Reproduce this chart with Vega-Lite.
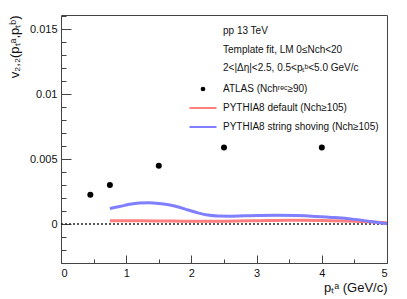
{
  "$schema": "https://vega.github.io/schema/vega-lite/v6.json",
  "width": 326,
  "height": 248,
  "autosize": {"type": "none"},
  "padding": {"left": 61, "top": 15, "right": 20, "bottom": 36},
  "config": {
    "font": "Liberation Sans",
    "view": {"stroke": "#444", "strokeWidth": 1},
    "axis": {"grid": false, "domain": false, "tickColor": "#444", "labelColor": "#111", "titleColor": "#111", "labelFont": "Liberation Sans", "titleFont": "Liberation Sans", "titleFontWeight": "normal"}
  },
  "datasets": {
    "atlas": [
      {"pt": 0.45, "v": 0.00225, "series": "ATLAS (Nchʳᵉᶜ≥90)"},
      {"pt": 0.75, "v": 0.0030, "series": "ATLAS (Nchʳᵉᶜ≥90)"},
      {"pt": 1.5, "v": 0.00449, "series": "ATLAS (Nchʳᵉᶜ≥90)"},
      {"pt": 2.5, "v": 0.0059, "series": "ATLAS (Nchʳᵉᶜ≥90)"},
      {"pt": 4.0, "v": 0.0059, "series": "ATLAS (Nchʳᵉᶜ≥90)"}
    ],
    "pythia": [
      {"pt": 0.75, "v": 0.00025, "series": "PYTHIA8 default (Nch≥105)"},
      {"pt": 1.0, "v": 0.00025, "series": "PYTHIA8 default (Nch≥105)"},
      {"pt": 1.5, "v": 0.00024, "series": "PYTHIA8 default (Nch≥105)"},
      {"pt": 2.0, "v": 0.00021, "series": "PYTHIA8 default (Nch≥105)"},
      {"pt": 2.5, "v": 0.00022, "series": "PYTHIA8 default (Nch≥105)"},
      {"pt": 3.0, "v": 0.00026, "series": "PYTHIA8 default (Nch≥105)"},
      {"pt": 3.5, "v": 0.0003, "series": "PYTHIA8 default (Nch≥105)"},
      {"pt": 4.0, "v": 0.00028, "series": "PYTHIA8 default (Nch≥105)"},
      {"pt": 4.5, "v": 0.00022, "series": "PYTHIA8 default (Nch≥105)"},
      {"pt": 5.0, "v": 0.0001, "series": "PYTHIA8 default (Nch≥105)"},
      {"pt": 0.75, "v": 0.0012, "series": "PYTHIA8 string shoving (Nch≥105)"},
      {"pt": 0.9, "v": 0.00135, "series": "PYTHIA8 string shoving (Nch≥105)"},
      {"pt": 1.05, "v": 0.00152, "series": "PYTHIA8 string shoving (Nch≥105)"},
      {"pt": 1.2, "v": 0.00162, "series": "PYTHIA8 string shoving (Nch≥105)"},
      {"pt": 1.35, "v": 0.00164, "series": "PYTHIA8 string shoving (Nch≥105)"},
      {"pt": 1.5, "v": 0.00159, "series": "PYTHIA8 string shoving (Nch≥105)"},
      {"pt": 1.65, "v": 0.00148, "series": "PYTHIA8 string shoving (Nch≥105)"},
      {"pt": 1.8, "v": 0.00131, "series": "PYTHIA8 string shoving (Nch≥105)"},
      {"pt": 1.95, "v": 0.00108, "series": "PYTHIA8 string shoving (Nch≥105)"},
      {"pt": 2.1, "v": 0.00086, "series": "PYTHIA8 string shoving (Nch≥105)"},
      {"pt": 2.25, "v": 0.00069, "series": "PYTHIA8 string shoving (Nch≥105)"},
      {"pt": 2.4, "v": 0.00062, "series": "PYTHIA8 string shoving (Nch≥105)"},
      {"pt": 2.6, "v": 0.00061, "series": "PYTHIA8 string shoving (Nch≥105)"},
      {"pt": 2.8, "v": 0.00063, "series": "PYTHIA8 string shoving (Nch≥105)"},
      {"pt": 3.0, "v": 0.00065, "series": "PYTHIA8 string shoving (Nch≥105)"},
      {"pt": 3.3, "v": 0.00067, "series": "PYTHIA8 string shoving (Nch≥105)"},
      {"pt": 3.6, "v": 0.00065, "series": "PYTHIA8 string shoving (Nch≥105)"},
      {"pt": 3.9, "v": 0.00059, "series": "PYTHIA8 string shoving (Nch≥105)"},
      {"pt": 4.2, "v": 0.0005, "series": "PYTHIA8 string shoving (Nch≥105)"},
      {"pt": 4.5, "v": 0.00036, "series": "PYTHIA8 string shoving (Nch≥105)"},
      {"pt": 4.75, "v": 0.0002, "series": "PYTHIA8 string shoving (Nch≥105)"},
      {"pt": 5.0, "v": 0.00002, "series": "PYTHIA8 string shoving (Nch≥105)"}
    ]
  },
  "layer": [
    {
      "data": {"values": [{"v": 0}]},
      "mark": {"type": "rule", "color": "#222", "strokeWidth": 1.5, "strokeDash": [2, 2]},
      "encoding": {
        "y": {"field": "v", "type": "quantitative", "axis": null}
      }
    },
    {
      "data": {"name": "pythia"},
      "mark": {"type": "line", "strokeWidth": 3, "interpolate": "monotone", "clip": true},
      "encoding": {
        "x": {"field": "pt", "type": "quantitative",
          "scale": {"domain": [0, 5], "nice": false, "zero": false},
          "axis": {"orient": "bottom", "values": [0, 1, 2, 3, 4, 5], "tickSize": -8, "labelPadding": 12, "labelFontSize": 11, "title": "pₜᵃ (GeV/c)", "titleFontSize": 13, "titleAnchor": "end", "titlePadding": 3}},
        "y": {"field": "v", "type": "quantitative",
          "scale": {"domain": [-0.003, 0.0161], "nice": false, "zero": false},
          "axis": {"orient": "left", "values": [-0.003, -0.002, -0.001, 0.001, 0.002, 0.003, 0.004, 0.006, 0.007, 0.008, 0.009, 0.011, 0.012, 0.013, 0.014, 0.016], "tickSize": -5, "labels": false, "title": null}},
        "color": {"field": "series", "type": "nominal",
          "scale": {"domain": ["ATLAS (Nchʳᵉᶜ≥90)", "PYTHIA8 default (Nch≥105)", "PYTHIA8 string shoving (Nch≥105)"], "range": ["#000000", "#ff7f7f", "#7f7fff"]},
          "legend": {
            "orient": "none", "legendX": 162, "legendY": 11,
            "title": ["pp 13 TeV", "Template fit, LM 0≤Nch<20", "2<|Δη|<2.5, 0.5<pₜᵇ<5.0 GeV/c"],
            "titleFontSize": 10, "titleFontWeight": "normal", "titleLineHeight": 18.5, "titleColor": "#111", "titlePadding": 11,
            "labelFontSize": 10, "labelColor": "#111", "labelOffset": 15, "symbolOffset": -25,
            "rowPadding": 9, "symbolSize": 729, "symbolStrokeWidth": 2,
            "encode": {"symbols": {"update": {
              "size": {"signal": "datum.index == 0 ? 22 : 729"},
              "strokeWidth": {"signal": "datum.index == 0 ? 0 : 2"}
            }}}
          }}
      }
    },
    {
      "data": {"name": "atlas"},
      "mark": {"type": "point", "filled": true, "size": 36, "opacity": 1},
      "encoding": {
        "x": {"field": "pt", "type": "quantitative",
          "axis": {"orient": "bottom", "values": [0.5, 1.5, 2.5, 3.5, 4.5], "tickSize": -4, "labels": false, "title": null}},
        "y": {"field": "v", "type": "quantitative",
          "axis": {"orient": "left", "values": [0, 0.005, 0.01, 0.015], "format": "~g", "tickSize": -10, "labelPadding": 14, "labelFontSize": 11, "title": "v₂,₂(pₜᵃ,pₜᵇ)", "titleFontSize": 13, "titleAnchor": "end", "titlePadding": 8}},
        "color": {"field": "series", "type": "nominal"},
        "shape": {"field": "series", "type": "nominal",
          "scale": {"domain": ["ATLAS (Nchʳᵉᶜ≥90)", "PYTHIA8 default (Nch≥105)", "PYTHIA8 string shoving (Nch≥105)"], "range": ["circle", "stroke", "stroke"]}}
      }
    }
  ],
  "resolve": {"axis": {"x": "independent", "y": "independent"}}
}
